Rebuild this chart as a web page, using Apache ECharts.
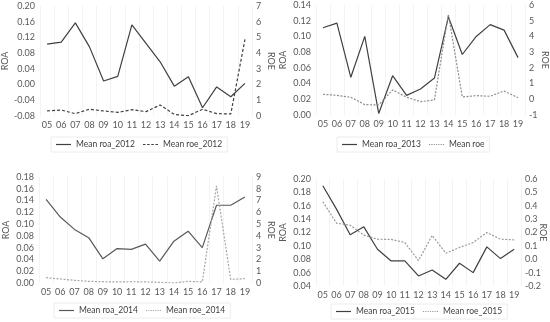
<!DOCTYPE html>
<html><head><meta charset="utf-8">
<script src="https://cdn.jsdelivr.net/npm/echarts@6/dist/echarts.min.js"></script>
<style>html,body{margin:0;padding:0;background:#fff}#c{width:550px;height:322px}</style>
</head><body><div id="c"></div>
<script>
const categories = ['05','06','07','08','09','10','11','12','13','14','15','16','17','18','19'];

const roa2012 = [0.103,0.108,0.157,0.096,0.009,0.021,0.152,0.105,0.058,-0.004,0.020,-0.059,-0.006,-0.031,0.003];
const roe2012 = [0.32,0.38,0.15,0.43,0.32,0.23,0.40,0.28,0.70,0.10,0.02,0.43,0.15,0.13,4.87];

const roa2013 = [0.111,0.117,0.048,0.100,0.002,0.050,0.025,0.033,0.047,0.125,0.077,0.100,0.115,0.108,0.073];
const roe2013 = [0.32,0.25,0.13,-0.34,-0.36,0.60,0.13,-0.15,-0.04,5.41,0.15,0.23,0.19,0.53,0.10];

const roa2014 = [0.142,0.112,0.091,0.077,0.041,0.0585,0.057,0.066,0.037,0.071,0.088,0.060,0.132,0.132,0.146];
const roe2014 = [0.45,0.34,0.23,0.14,0.11,0.09,0.11,0.09,0.06,0.00,0.14,0.09,8.24,0.31,0.37];

const roa2015 = [0.190,0.155,0.1165,0.1285,0.095,0.0775,0.0775,0.055,0.064,0.050,0.074,0.060,0.0985,0.081,0.095];
const roe2015 = [0.43,0.27,0.255,0.18,0.15,0.148,0.125,-0.01,0.178,0.045,0.088,0.125,0.20,0.15,0.145];

const leftTicks  = [[-0.08,0.20,0.04],[0,0.14,0.02],[0,0.18,0.02],[0.04,0.20,0.02]];
const rightTicks = [[0,7,1],[-1,6,1],[0,9,1],[-0.2,0.6,0.1]];
const legendNames = [['Mean roa_2012','Mean roe_2012'],['Mean roa_2013','Mean roe'],['Mean roa_2014','Mean roe_2014'],['Mean roa_2015','Mean roe_2015']];

const FONT = 'Lato, "Open Sans", sans-serif';
const TXT = '#595959';
const FS = 9;
const LFS = 8.5;

const grids = [
  {left:39, top:6, width:213, height:110},
  {left:316, top:5, width:209, height:110},
  {left:39, top:177, width:213, height:106},
  {left:316, top:179, width:205, height:107}
];
const legendPos = [{left:51,top:137},{left:337,top:137},{left:54,top:303},{left:331,top:304}];
const roeTitleX = [271, 545, 271, 543];
const roaColor = ['#404040','#404040','#595959','#404040'];
const roeColor = ['#404040','#8c8c8c','#a6a6a6','#9a9a9a'];
const roeType = [[3,2],[2,1.5],[2,1.5],[2,1.5]];
const roaData = [roa2012,roa2013,roa2014,roa2015];
const roeData = [roe2012,roe2013,roe2014,roe2015];

const SOLID = 'path://M0,0H20V1H0Z';
const DASH = 'path://M0,0H3V1H0ZM5,0H8V1H5ZM10,0H13V1H10ZM15,0H18V1H15Z';
const DOT = 'path://M0,0H1.5V1H0ZM3,0H4.5V1H3ZM6,0H7.5V1H6ZM9,0H10.5V1H9ZM12,0H13.5V1H12ZM15,0H16.5V1H15ZM18,0H19.5V1H18Z';

const xAxis=[], yAxis=[], series=[], legend=[], graphic=[];
for (let i=0;i<4;i++){
  xAxis.push({type:'category', gridIndex:i, data:categories, boundaryGap:true,
    axisLine:{show:false}, axisTick:{show:false},
    axisLabel:{color:TXT, fontFamily:FONT, fontSize:FS, margin:5, interval:0},
    splitLine:{show:true, lineStyle:{color:'#f3f3f3', width:1}}});
  const lt=leftTicks[i], rt=rightTicks[i];
  yAxis.push({type:'value', gridIndex:i, position:'left', min:lt[0], max:lt[1], interval:lt[2],
    name:'ROA', nameLocation:'middle', nameGap:28, nameRotate:90,
    nameTextStyle:{color:TXT, fontFamily:FONT, fontSize:FS},
    axisLine:{show:false}, axisTick:{show:false}, splitLine:{show:false},
    axisLabel:{color:TXT, fontFamily:FONT, fontSize:FS, margin:5, formatter:v=>v.toFixed(2)}});
  yAxis.push({type:'value', gridIndex:i, position:'right', min:rt[0], max:rt[1], interval:rt[2],
    axisLine:{show:false}, axisTick:{show:false}, splitLine:{show:false},
    axisLabel:{color:TXT, fontFamily:FONT, fontSize:FS, margin:4,
      formatter: i===3 ? (v=>v.toFixed(1)) : (v=>String(Math.round(v)))}});
  series.push({name:legendNames[i][0], type:'line', xAxisIndex:i, yAxisIndex:2*i, data:roaData[i],
    symbol:'none', lineStyle:{color:roaColor[i], width:1.2, type:'solid'}, itemStyle:{color:roaColor[i]}, animation:false});
  series.push({name:legendNames[i][1], type:'line', xAxisIndex:i, yAxisIndex:2*i+1, data:roeData[i],
    symbol:'none', lineStyle:{color:roeColor[i], width:1.2, type:roeType[i]}, itemStyle:{color:roeColor[i]}, animation:false});
  legend.push({data:[{name:legendNames[i][0], icon:SOLID},{name:legendNames[i][1], icon: i===0?DASH:DOT}],
    left:legendPos[i].left, top:legendPos[i].top, width:300,
    itemWidth:15, itemHeight:1.2, itemGap:8, padding:[3,5], symbolKeepAspect:false,
    borderColor:'#ececec', borderWidth:1,
    textStyle:{color:'#404040', fontFamily:FONT, fontSize:LFS}});
  const g = grids[i];
  graphic.push({type:'text', x:roeTitleX[i], y:g.top + g.height/2, rotation:-Math.PI/2,
    style:{text:'ROE', fill:TXT, font:FS+'px '+FONT, align:'center', verticalAlign:'middle'}});
}

const chart = echarts.init(document.getElementById('c'));
chart.setOption({animation:false, grid:grids, xAxis, yAxis, series, legend, graphic});
</script></body></html>
